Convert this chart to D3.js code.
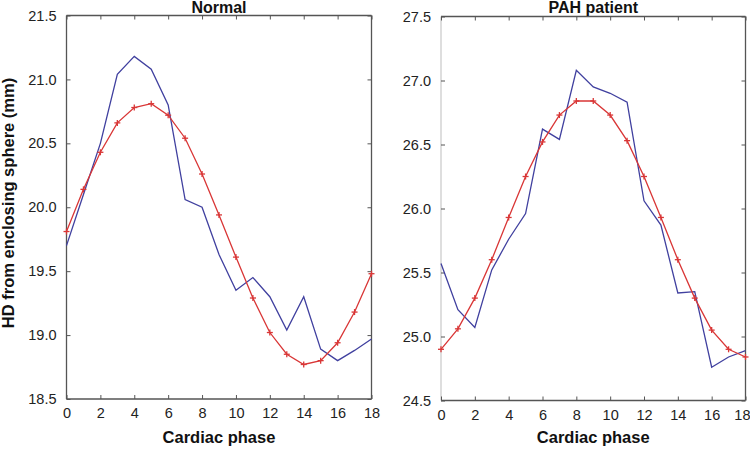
<!DOCTYPE html>
<html><head><meta charset="utf-8">
<script src="https://cdn.jsdelivr.net/npm/d3@7"></script>
<style>body{margin:0;background:#fff}svg{display:block}</style>
</head><body>
<svg id="c" width="750" height="451"></svg>
<script>
const phases = d3.range(0, 19);
const xTicks = [0,2,4,6,8,10,12,14,16,18];
const normalBlue = [19.70,20.10,20.50,21.04,21.18,21.08,20.80,20.06,20.00,19.63,19.35,19.45,19.30,19.04,19.30,18.89,18.80,18.88,18.97];
const normalRed  = [19.81,20.14,20.43,20.66,20.78,20.81,20.72,20.54,20.26,19.94,19.61,19.29,19.02,18.85,18.77,18.80,18.94,19.18,19.48];
const pahBlue = [25.57,25.21,25.07,25.52,25.76,25.96,26.62,26.54,27.08,26.95,26.90,26.83,26.06,25.87,25.34,25.35,24.76,24.84,24.89];
const pahRed  = [24.90,25.06,25.30,25.60,25.93,26.25,26.52,26.73,26.84,26.84,26.73,26.53,26.25,25.93,25.60,25.30,25.05,24.90,24.84];
const normalYTicks = [18.5,19.0,19.5,20.0,20.5,21.0,21.5];
const pahYTicks = [24.5,25.0,25.5,26.0,26.5,27.0,27.5];

const svg = d3.select("#c");
const font = "Liberation Sans, Arial, sans-serif";
const blue = "#40409f", red = "#d93636";

function panel(cfg){
  const {left,right,top,bottom,yDomain,yTicks,blueVals,redVals,title,leftAxisColor,clampLast} = cfg;
  const x = d3.scaleLinear().domain([0,18]).range([left,right]);
  const y = d3.scaleLinear().domain(yDomain).range([bottom,top]);
  const g = svg.append("g");
  g.append("line").attr("x1",left).attr("x2",right).attr("y1",top).attr("y2",top).attr("stroke","#555").attr("stroke-width",1.3);
  g.append("line").attr("x1",right).attr("x2",right).attr("y1",top).attr("y2",bottom).attr("stroke","#555").attr("stroke-width",1.3);
  g.append("line").attr("x1",left).attr("x2",right).attr("y1",bottom).attr("y2",bottom).attr("stroke","#555").attr("stroke-width",1.3);
  g.append("line").attr("x1",left).attr("x2",left).attr("y1",top).attr("y2",bottom).attr("stroke",leftAxisColor).attr("stroke-width",1.3);
  const xb = d3.axisBottom(x).tickValues(xTicks).tickSizeInner(-4).tickSizeOuter(0).tickPadding(9).tickFormat(d3.format("d"));
  const gx = g.append("g").attr("transform",`translate(0,${bottom})`).call(xb);
  gx.select(".domain").remove();
  gx.selectAll("line").attr("stroke","#555");
  gx.selectAll("text").attr("font-family",font).attr("font-size",14.5).attr("fill","#222");
  if (clampLast) {
    gx.selectAll("text").filter(d=>d===18).attr("text-anchor","end").attr("dx", 750 - right);
  }
  const xt = d3.axisTop(x).tickValues(xTicks).tickSizeInner(-4).tickSizeOuter(0).tickFormat("");
  const gxt = g.append("g").attr("transform",`translate(0,${top})`).call(xt);
  gxt.select(".domain").remove(); gxt.selectAll("line").attr("stroke","#555");
  const yl = d3.axisLeft(y).tickValues(yTicks).tickSizeInner(-4).tickSizeOuter(0).tickPadding(10).tickFormat(d3.format(".1f"));
  const gy = g.append("g").attr("transform",`translate(${left},0)`).call(yl);
  gy.select(".domain").remove();
  gy.selectAll("line").attr("stroke","#555");
  gy.selectAll("text").attr("font-family",font).attr("font-size",14.5).attr("fill","#222");
  const yr = d3.axisRight(y).tickValues(yTicks).tickSizeInner(-4).tickSizeOuter(0).tickFormat("");
  const gyr = g.append("g").attr("transform",`translate(${right},0)`).call(yr);
  gyr.select(".domain").remove(); gyr.selectAll("line").attr("stroke","#555");

  const line = d3.line().x((d,i)=>x(phases[i])).y(d=>y(d));
  g.append("path").datum(blueVals).attr("d",line).attr("fill","none").attr("stroke",blue).attr("stroke-width",1.3);
  g.append("path").datum(redVals).attr("d",line).attr("fill","none").attr("stroke",red).attr("stroke-width",1.3);
  const m = g.append("g").selectAll("g").data(redVals).join("g")
    .attr("transform",(d,i)=>`translate(${x(phases[i])},${y(d)})`);
  m.append("line").attr("x1",-3).attr("x2",3).attr("stroke",red).attr("stroke-width",1.3);
  m.append("line").attr("y1",-3).attr("y2",3).attr("stroke",red).attr("stroke-width",1.3);

  g.append("text").attr("x",(left+right)/2).attr("y",13).attr("text-anchor","middle")
    .attr("font-family",font).attr("font-weight","bold").attr("font-size",16).attr("fill","#111").text(title);
  g.append("text").attr("x",(left+right)/2).attr("y",443).attr("text-anchor","middle")
    .attr("font-family",font).attr("font-weight","bold").attr("font-size",16.5).attr("fill","#111").text("Cardiac phase");
}

panel({left:66.5,right:371.5,top:15.5,bottom:399,yDomain:[18.5,21.5],yTicks:normalYTicks,
  blueVals:normalBlue,redVals:normalRed,title:"Normal",leftAxisColor:"#555",clampLast:false});
panel({left:441,right:745.5,top:16.5,bottom:400.5,yDomain:[24.5,27.5],yTicks:pahYTicks,
  blueVals:pahBlue,redVals:pahRed,title:"PAH patient",leftAxisColor:"#ccc",clampLast:true});

svg.append("text").attr("transform","translate(14,203) rotate(-90)").attr("text-anchor","middle")
  .attr("font-family",font).attr("font-weight","bold").attr("font-size",16.5).attr("fill","#111")
  .text("HD from enclosing sphere (mm)");
</script>
</body></html>
